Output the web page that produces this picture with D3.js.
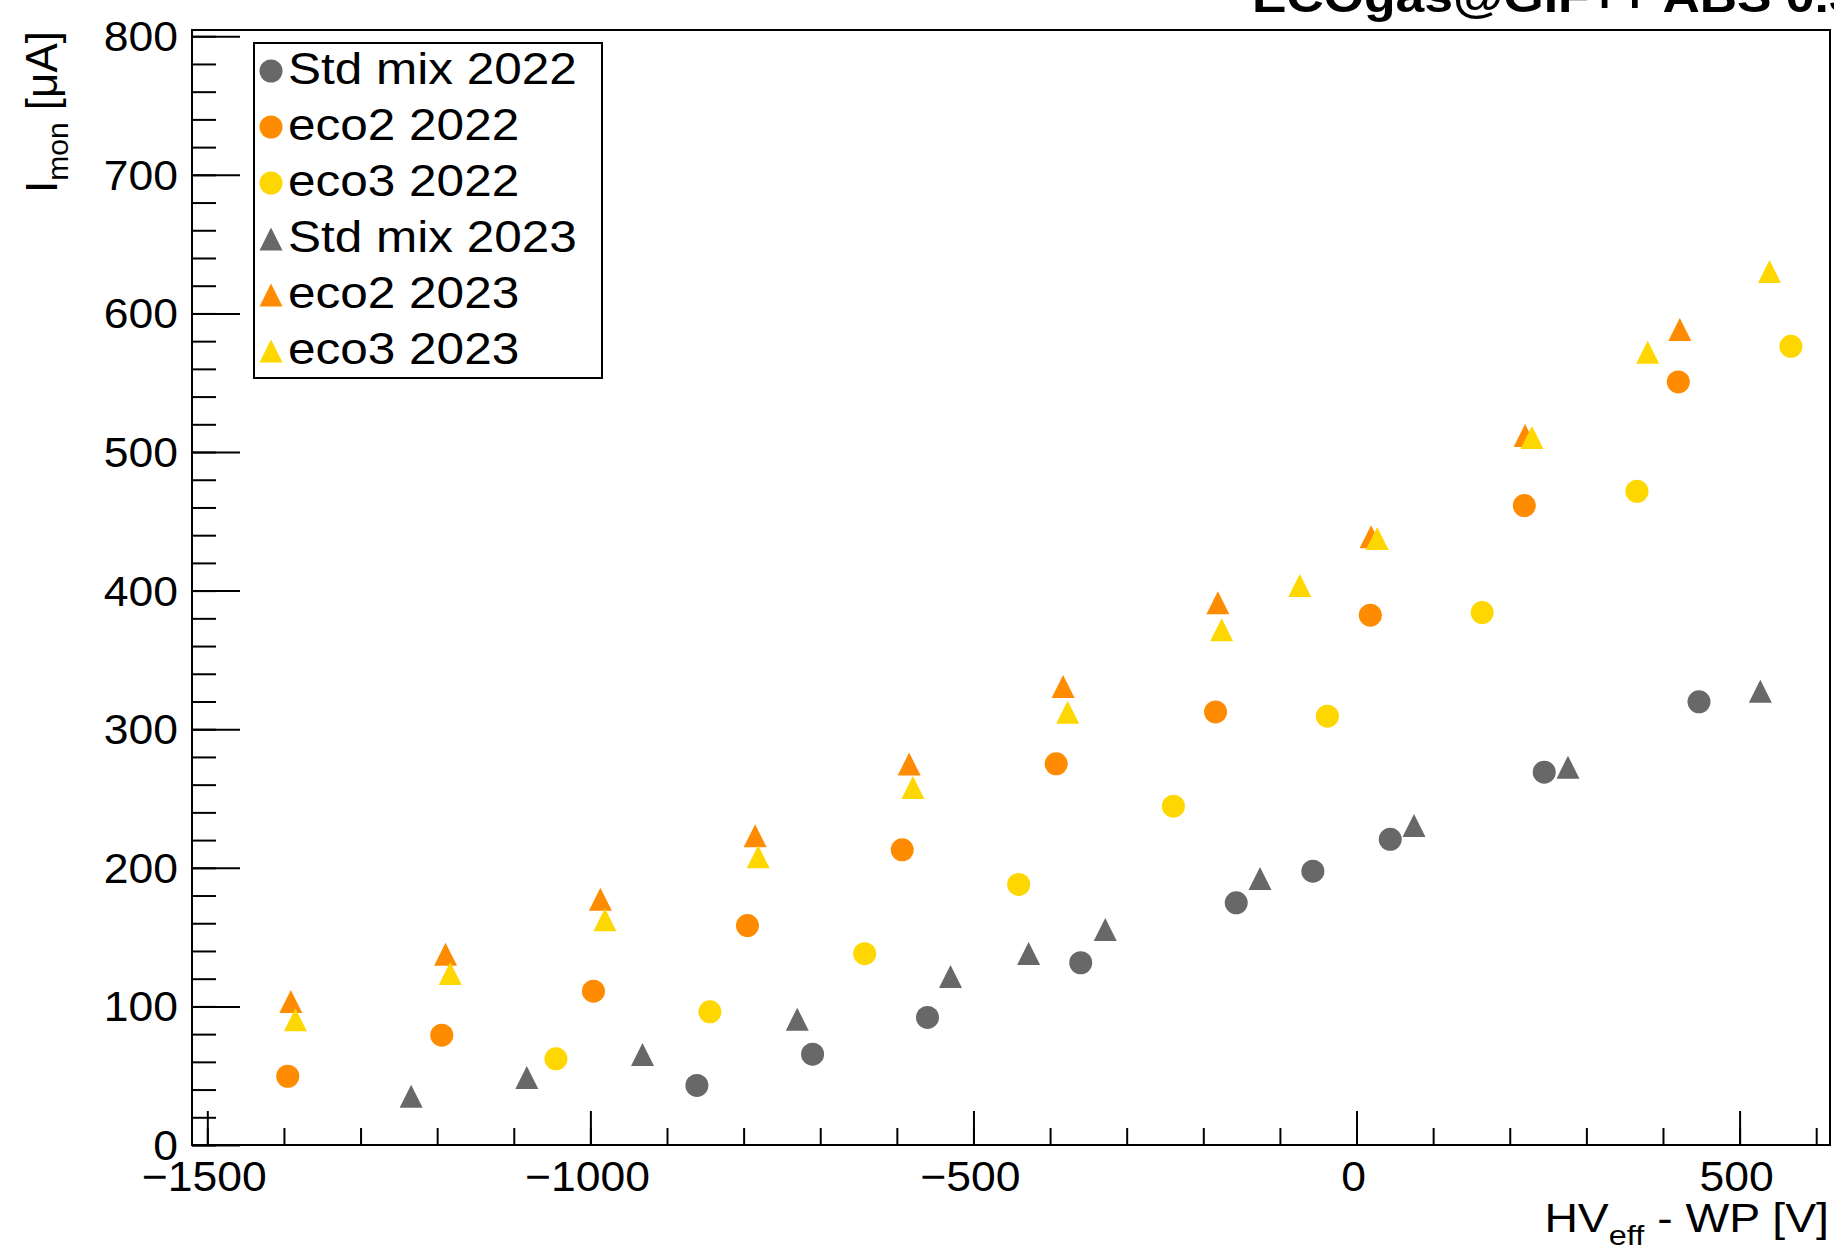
<!DOCTYPE html>
<html>
<head>
<meta charset="utf-8">
<script src="https://cdn.jsdelivr.net/npm/d3@7"></script>
<style>
  html, body { margin: 0; padding: 0; background: #fff; }
  svg { display: block; }
  text { font-family: "Liberation Sans", Arial, Helvetica, sans-serif; fill: #000; }
</style>
</head>
<body>
<svg id="chart" width="1834" height="1248"></svg>
<script>
// ---------------- data ----------------
const seriesNames = ["Std mix 2022", "eco2 2022", "eco3 2022", "Std mix 2023", "eco2 2023", "eco3 2023"];
const seriesColors = ["#686868", "#ff8c00", "#ffd700", "#686868", "#ff8c00", "#ffd700"];
const seriesShapes = ["circle", "circle", "circle", "triangle", "triangle", "triangle"];

const stdMix2022X = [-861, -710, -560, -360, -157, -57, 44, 245, 447];
const stdMix2022Y = [43, 65.5, 92, 131.5, 174.7, 197.6, 220.6, 269, 319.8];

const eco2_2022X = [-1395, -1194, -996, -795, -593, -392, -184, 18, 219, 420];
const eco2_2022Y = [49.6, 79.2, 111, 158.3, 213, 275, 312.5, 382.3, 461.4, 550.6];

const eco3_2022X = [-1045, -844, -642, -441, -239, -38, 164, 366, 567];
const eco3_2022Y = [62.2, 96.1, 138, 188, 244.5, 309.4, 384.2, 471.7, 576.3];

const stdMix2023X = [-1234, -1083, -932, -730, -530, -428, -328, -126, 75, 276, 527];
const stdMix2023Y = [35.2, 48.7, 65.3, 90.8, 121.6, 138.2, 155.5, 192.3, 230.5, 272.6, 327.4];

const eco2_2023X = [-1391, -1189, -987, -785, -584, -383, -181, 19, 220, 422];
const eco2_2023Y = [103.5, 137.7, 177.3, 223.1, 274.9, 330.8, 391.2, 438.8, 511.9, 588.4];

const eco3_2023X = [-1385, -1183, -981, -781, -579, -377, -176, -74, 27, 229, 380, 539];
const eco3_2023Y = [90.3, 123.7, 162.6, 207.9, 258, 312.3, 371.7, 403.7, 437.6, 510.5, 572, 630.2];

const seriesX = [stdMix2022X, eco2_2022X, eco3_2022X, stdMix2023X, eco2_2023X, eco3_2023X];
const seriesY = [stdMix2022Y, eco2_2022Y, eco3_2022Y, stdMix2023Y, eco2_2023Y, eco3_2023Y];

const xMajorTicks = [-1500, -1000, -500, 0, 500];
const xTickLabels = ["\u22121500", "\u22121000", "\u2212500", "0", "500"];
const xMinorTicks = d3.range(-1500, 601, 100);
const yMajorTicks = [0, 100, 200, 300, 400, 500, 600, 700, 800];
const yTickLabels = ["0", "100", "200", "300", "400", "500", "600", "700", "800"];
const yMinorTicks = d3.range(0, 801, 20);

const titleText = "ECOgas@GIF++ ABS 0.3";

// ---------------- layout ----------------
const L = 192, R = 1830, T = 30, B = 1145;
const x = d3.scaleLinear().domain([-1520, 618]).range([L, R]);
const y = d3.scaleLinear().domain([0, 804.5]).range([B, T]);

const svg = d3.select("#chart");

function stretchedText(parent, tx, ty, anchor, size, sx, str, weight) {
  const g = parent.append("g").attr("transform", `translate(${tx},${ty}) scale(${sx},1)`);
  const t = g.append("text").attr("text-anchor", anchor).attr("font-size", size);
  if (weight) t.attr("font-weight", weight);
  t.text(str);
  return t;
}

// title (clipped at top)
stretchedText(svg, 1252, 12, "start", 47, 1.1, titleText, "bold");

// frame
svg.append("rect").attr("x", L).attr("y", T).attr("width", R - L).attr("height", B - T)
  .attr("fill", "none").attr("stroke", "#000").attr("stroke-width", 2);

// axes ticks (inward)
function styleAxis(g) {
  g.select(".domain").remove();
  g.selectAll("line").attr("stroke", "#000").attr("stroke-width", 2);
  g.selectAll("text").remove();
}
svg.append("g").attr("transform", `translate(0,${B})`)
  .call(d3.axisBottom(x).tickValues(xMinorTicks).tickSize(-17).tickFormat(""))
  .call(styleAxis);
svg.append("g").attr("transform", `translate(0,${B})`)
  .call(d3.axisBottom(x).tickValues(xMajorTicks).tickSize(-34).tickFormat(""))
  .call(styleAxis);
svg.append("g").attr("transform", `translate(${L},0)`)
  .call(d3.axisLeft(y).tickValues(yMinorTicks).tickSize(-24).tickFormat(""))
  .call(styleAxis);
svg.append("g").attr("transform", `translate(${L},0)`)
  .call(d3.axisLeft(y).tickValues(yMajorTicks).tickSize(-48).tickFormat(""))
  .call(styleAxis);

// tick labels
xMajorTicks.forEach((v, i) => {
  stretchedText(svg, x(v) - 3, 1191, "middle", 42, 1.06, xTickLabels[i]);
});
yMajorTicks.forEach((v, i) => {
  stretchedText(svg, 178, y(v) + 15, "end", 42, 1.06, yTickLabels[i]);
});

// axis titles
{
  const g = svg.append("g").attr("transform", "translate(1829,1232) scale(1.16,1)");
  const t = g.append("text").attr("text-anchor", "end").attr("font-size", 40);
  t.append("tspan").text("HV");
  t.append("tspan").attr("font-size", 28).attr("dy", 13).text("eff");
  t.append("tspan").attr("dy", -13).text(" - WP [V]");
}
{
  const g = svg.append("g").attr("transform", "translate(57,31) rotate(-90)");
  const t = g.append("text").attr("text-anchor", "end").attr("font-size", 44);
  t.append("tspan").text("I");
  t.append("tspan").attr("font-size", 30).attr("dy", 11).text("mon");
  t.append("tspan").attr("dy", -11).text(" [\u03bcA]");
}

// markers
const half = 11.5;
function drawMarker(g, shape, cx, cy, color) {
  if (shape === "circle") {
    g.append("circle").attr("cx", cx).attr("cy", cy).attr("r", half).attr("fill", color);
  } else {
    g.append("path")
      .attr("d", `M${cx - half},${cy + half}L${cx + half},${cy + half}L${cx},${cy - half}Z`)
      .attr("fill", color);
  }
}
const plot = svg.append("g");
seriesNames.forEach((name, s) => {
  const gs = plot.append("g");
  seriesX[s].forEach((vx, i) => {
    drawMarker(gs, seriesShapes[s], x(vx), y(seriesY[s][i]), seriesColors[s]);
  });
});

// legend
const legend = svg.append("g");
legend.append("rect").attr("x", 254).attr("y", 43).attr("width", 348).attr("height", 335)
  .attr("fill", "#fff").attr("stroke", "#000").attr("stroke-width", 2);
seriesNames.forEach((name, s) => {
  const cy = 71 + s * 56;
  drawMarker(legend, seriesShapes[s], 271, cy, seriesColors[s]);
  stretchedText(legend, 288, cy + 13, "start", 45, 1.1, name);
});
</script>
</body>
</html>
